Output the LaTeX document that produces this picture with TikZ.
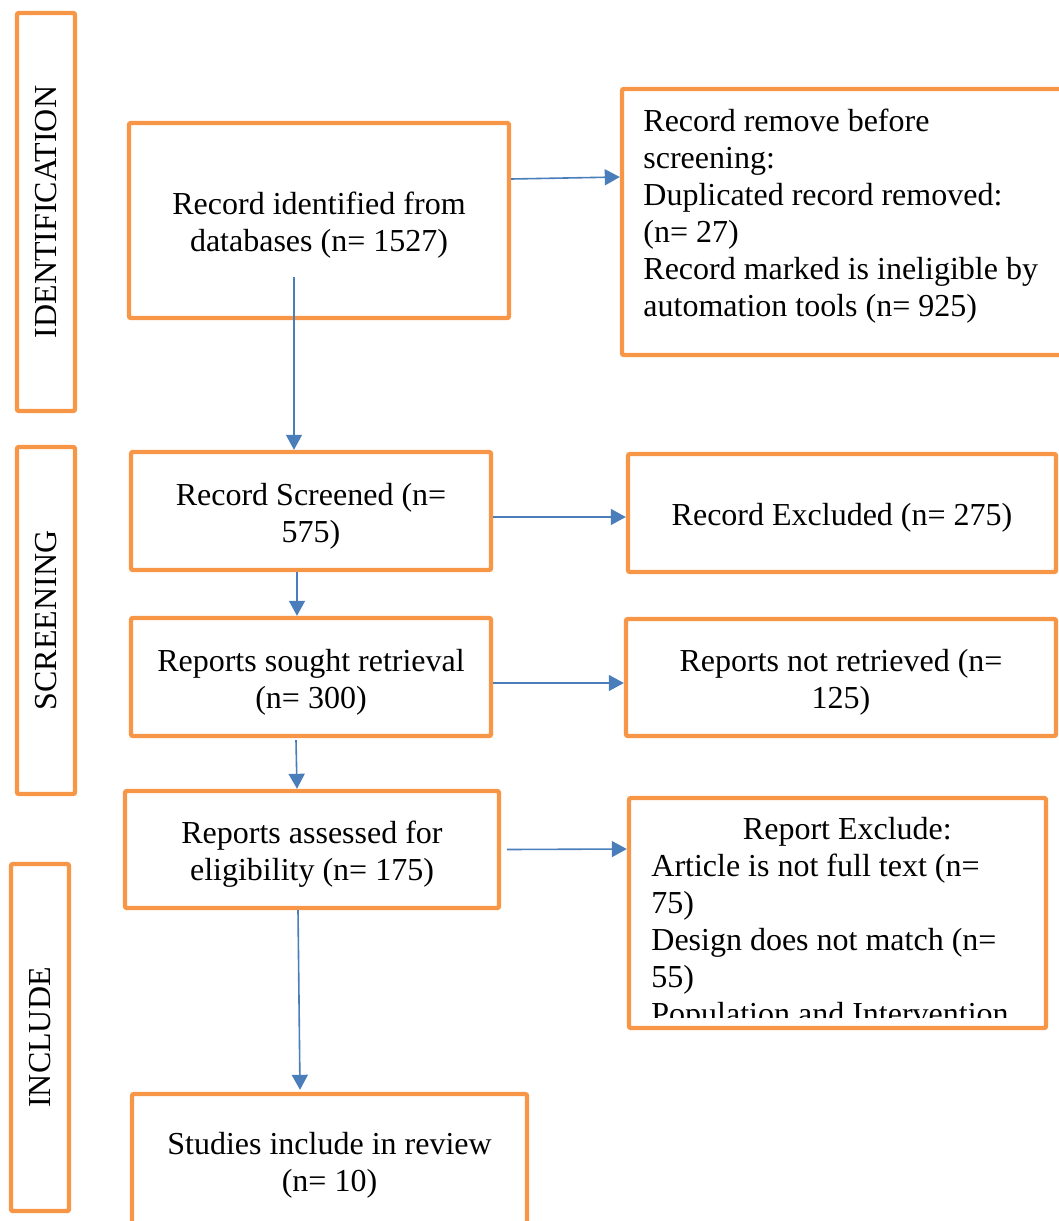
\documentclass[tikz,border=0pt]{standalone}
\usepackage{fontspec}
\setmainfont{Liberation Serif}
\usepackage{xcolor}
\usetikzlibrary{positioning,calc,arrows.meta}
\definecolor{boxorange}{HTML}{F79646}
\definecolor{flowblue}{HTML}{4A7EBB}
\newcommand{\topstrut}{\rule{0pt}{16pt}}

\begin{document}
\begin{tikzpicture}[x=0.5pt,y=-0.5pt,
    every node/.style={font=\fontsize{16}{18.5}\selectfont},
    stage/.style={draw=boxorange, line width=2.2pt, rounded corners=1pt, rotate=90, minimum height=29pt, inner sep=0pt},
    box/.style={draw=boxorange, line width=2.2pt, rounded corners=1pt, align=center, inner sep=0pt},
    note/.style={anchor=north west, align=left, inner sep=0pt},
    flow/.style={draw=flowblue, line width=0.8pt, -{Triangle[length=7.5pt,width=8pt]}}]
    \useasboundingbox (0,0) rectangle (1059,1221);

    % Stages
    \node[stage, minimum width=199pt] (ident) at (46,212) {IDENTIFICATION};
    \node[stage, minimum width=173.5pt] (screen) at (46,620.5) {SCREENING};
    \node[stage, minimum width=173.5pt] (incl) at (40,1037.5) {INCLUDE};

    % Main column
    \node[box, minimum width=190pt, minimum height=97.5pt] (b1) at (319,220.5) {\topstrut Record identified from\\databases (n= 1527)};
    \node[box, minimum width=180pt, minimum height=59pt] (b2) at (311,511) {\topstrut Record Screened (n=\\575)};
    \node[box, minimum width=180pt, minimum height=59pt] (b3) at (311,677) {\topstrut Reports sought retrieval\\(n= 300)};
    \node[box, minimum width=187pt, minimum height=58.5pt] (b4) at (312,849.5) {\topstrut Reports assessed for\\eligibility (n= 175)};
    \node[box, minimum width=197.5pt, minimum height=66pt] (b5) at (329.5,1160) {\topstrut Studies include in review\\(n= 10)};

    % Side boxes
    \node[box, minimum width=226pt, minimum height=133pt] (r1) at (848,222) {};
    \node[note] (r1text) at (643,109) {Record remove before\\screening:\\Duplicated record removed:\\(n= 27)\\Record marked is ineligible by\\automation tools (n= 925)};
    \node[box, minimum width=214pt, minimum height=59pt] (r2) at (842,513) {\topstrut Record Excluded (n= 275)};
    \node[box, minimum width=215pt, minimum height=58.5pt] (r3) at (841,677.5) {\topstrut Reports not retrieved (n=\\125)};
    \node[box, minimum width=208.5pt, minimum height=115pt] (r4) at (837.5,913) {};
    \begin{scope}
        \clip (629,798) rectangle (1046,1017);
        \node[note] (r4text) at (651,817) {\makebox[196pt]{Report Exclude:}\\Article is not full text (n=\\75)\\Design does not match (n=\\55)\\Population and Intervention};
    \end{scope}

    % Arrows
    \draw[flow] ($(b1.south)+(-25,-43)$) -- ($(b2.north)+(-17,0)$);
    \draw[flow] ($(b1.east)+(0,-41.5)$) -- ($(r1.west)+(0,-45)$);
    \draw[flow] ($(b2.east)+(0,6)$) -- ($(r2.west)+(0,4)$);
    \draw[flow] ($(b2.south)+(-14,0)$) -- ($(b3.north)+(-14,0)$);
    \draw[flow] ($(b3.east)+(0,6)$) -- ($(r3.west)+(0,5.5)$);
    \draw[flow] ($(b3.south)+(-15,2)$) -- ($(b4.north)+(-15,0)$);
    \draw[flow] ($(b4.east)+(6,0)$) -- ($(r4.west)+(0,-64)$);
    \draw[flow] ($(b4.south)+(-14,0)$) -- ($(b5.north)+(-29.5,-2)$);
\end{tikzpicture}
\end{document}
